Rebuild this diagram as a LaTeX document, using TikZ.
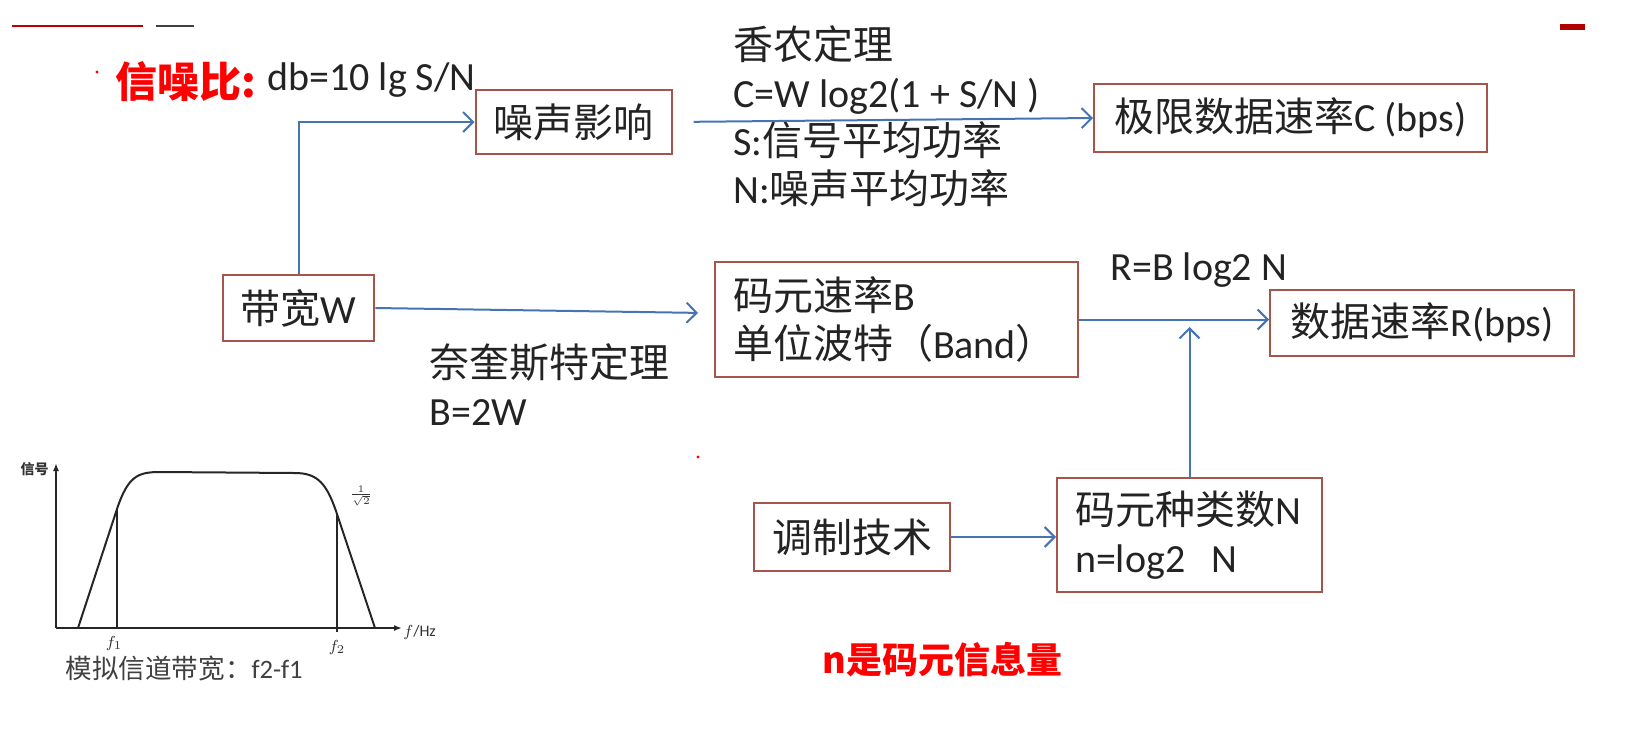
\documentclass[tikz,border=0pt]{standalone}
\usepackage{fontspec}
\setmainfont{Carlito}
\newfontfamily\cjk{Noto Sans CJK SC}
\usetikzlibrary{arrows.meta,positioning,calc}
\definecolor{boxred}{RGB}{165,85,75}
\definecolor{linkblue}{RGB}{70,115,180}
\definecolor{inkgray}{RGB}{35,35,35}
\newcommand{\zh}[1]{{\cjk #1}}
\tikzset{
	box/.style={draw=boxred, line width=1pt, inner xsep=9pt, inner ysep=0pt, text=inkgray, font=\fontsize{20}{24}\selectfont},
	conn/.style={draw=linkblue, line width=1pt, -{Straight Barb[length=5pt,width=10pt]}},
	txt/.style={inner sep=0pt, anchor=west, align=left, text=inkgray, font=\fontsize{20}{24}\selectfont},
	tiny/.style={inner sep=0pt, text=black!80, font=\fontsize{7}{8}\selectfont},
}

\begin{document}
\begin{tikzpicture}[x=0.5pt,y=-0.5pt]
	\useasboundingbox (0,0) rectangle (1642,751);
	%
	% slide marks
	\draw[red!75!black, line width=0.8pt] (12,26) -- (143,26);
	\draw[black!75, line width=0.8pt] (156,26) -- (194,26);
	\fill[red!70!black] (1560,24) rectangle (1585,30);
	\fill[red] (97,72) circle (0.8pt);
	\fill[red] (698,457) circle (0.8pt);
	
	% boxes
	\node[box, minimum width=96.5pt, minimum height=32pt] (noise) at (573.5,122) {\zh{噪声影响}};
	\node[box, minimum width=196.5pt, minimum height=34pt] (cap) at (1290.5,118) {\zh{极限数据速率}C (bps)};
	\node[box, minimum width=75.5pt, minimum height=33pt] (bw) at (298.5,308) {\zh{带宽}W};
	\node[box, text width=163.5pt, minimum height=57.5pt, align=left] (sym) at (896.5,319.5) {\zh{码元速率}B\\\zh{单位波特（}Band\zh{）}};
	\node[box, minimum width=152pt, minimum height=33pt] (rate) at (1422,323) {\zh{数据速率}R(bps)};
	\node[box, minimum width=98pt, minimum height=34pt] (mod) at (852,537) {\zh{调制技术}};
	\node[box, text width=114.5pt, minimum height=57pt, align=left] (kind) at (1189.5,535) {\zh{码元种类数}N\\n=log2~ N};
	
	% labels
	\node[txt, text=red, font={\cjk\bfseries\fontsize{21}{25}\selectfont}] (snr) at (115,82) {信噪比:};
	\node[txt] (snrdb) at (267,80) {db=10 lg S/N};
	\node[txt] (shannon) at (733,116) {\zh{香农定理}\\C=W log2(1 + S/N )\\S:\zh{信号平均功率}\\N:\zh{噪声平均功率}};
	\node[txt] (nyquist) at (429,384.5) {\zh{奈奎斯特定理}\\B=2W};
	\node[txt] (rlaw) at (1110,270) {R=B log2 N};
	\node[txt, text=red, font={\cjk\bfseries\fontsize{18}{22}\selectfont}] (note) at (822,660) {n是码元信息量};
	
	% connectors
	\draw[conn] (bw.north) |- (noise.west);
	\draw[conn, shorten <=10.5pt] (noise.east) -- (cap.west);
	\draw[conn, shorten >=8pt] (bw.east) -- (sym.178);
	\draw[conn] (sym.east) -- (sym.east -| rate.west);
	\coordinate (merge) at (1188,327);
	\draw[conn] (kind.north) -- (kind.north |- merge);
	\draw[conn] (mod.east) -- (mod.east -| kind.west);
	
	% band-pass sketch
	\begin{scope}[line width=1pt, draw=black!85]
		\draw[-{Latex[length=4pt,width=3pt]}] (56,628) -- (56,463);
		\draw[-{Latex[length=4pt,width=3pt]}] (56,628) -- (402,628);
		\draw (78,628) -- (117,509) .. controls (128,476) and (138,472) .. (160,472) -- (295,473) .. controls (318,473) and (327,484) .. (337,514) -- (375,628);
		\draw (117,509) -- (117,628);
		\draw (337,514) -- (337,632);
	\end{scope}
	\node[tiny, anchor=east, font={\cjk\bfseries\fontsize{7}{8}\selectfont}] (sig) at (49,469) {信号};
	\node[tiny, font=\fontsize{8}{9}\selectfont] (f1) at (114,643) {$f_1$};
	\node[tiny, font=\fontsize{8}{9}\selectfont] (f2) at (337,647) {$f_2$};
	\node[tiny, font=\fontsize{5}{6}\selectfont] (inv) at (361,496) {$\frac{1}{\sqrt{2}}$};
	\node[tiny, anchor=west, font=\fontsize{8}{9}\selectfont] (fhz) at (403,632) {$f$/Hz};
	\node[txt, text=black!75, font=\fontsize{13.3}{16}\selectfont] (bwnote) at (65,668) {\zh{模拟信道带宽：}f2-f1};
\end{tikzpicture}
\end{document}
